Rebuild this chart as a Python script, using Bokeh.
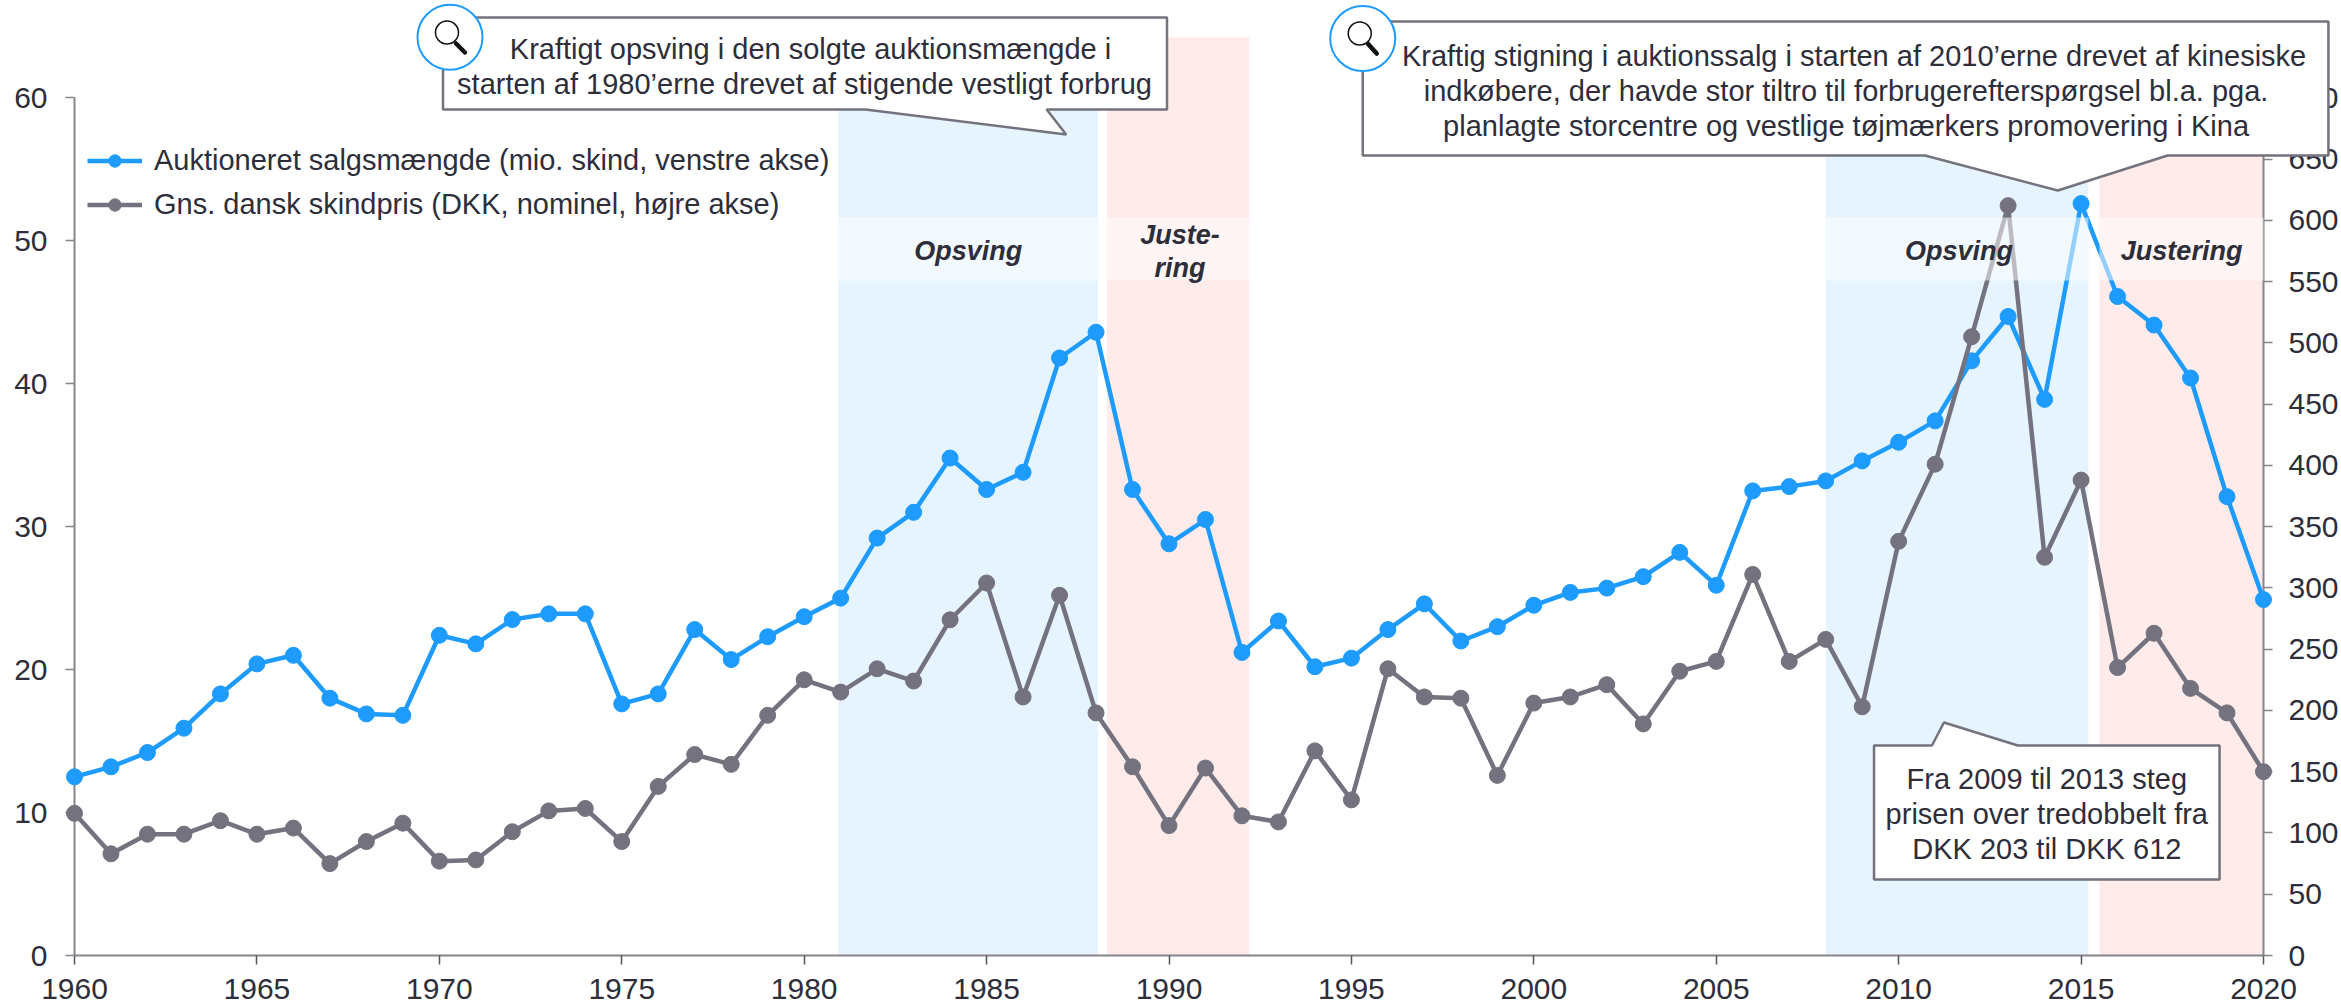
from bokeh.embed import file_html
from bokeh.resources import INLINE
from bokeh.plotting import figure
from bokeh.models import (Range1d, LinearAxis, FixedTicker, ColumnDataSource, Legend, LegendItem)
from bokeh.core.properties import value

years = list(range(1960, 2021))
volume = [12.5, 13.2, 14.2, 15.9, 18.3, 20.4, 21.0, 18.0, 16.9, 16.8,
          22.4, 21.8, 23.5, 23.9, 23.9, 17.6, 18.3, 22.8, 20.7, 22.3,
          23.7, 25.0, 29.2, 31.0, 34.8, 32.6, 33.8, 41.8, 43.6, 32.6,
          28.8, 30.5, 21.2, 23.4, 20.2, 20.8, 22.8, 24.6, 22.0, 23.0,
          24.5, 25.4, 25.7, 26.5, 28.2, 25.9, 32.5, 32.8, 33.2, 34.6,
          35.9, 37.4, 41.6, 44.7, 38.9, 52.6, 46.1, 44.1, 40.4, 32.1, 24.9]
price = [116, 83, 99, 99, 110, 99, 104, 75, 93, 108,
         77, 78, 101, 118, 120, 93, 138, 164, 156, 196,
         225, 215, 234, 224, 274, 304, 211, 294, 198, 154,
         106, 153, 114, 109, 167, 127, 234, 211, 210, 147,
         206, 211, 221, 189, 232, 240, 311, 240, 258, 203,
         338, 401, 505, 612, 325, 388, 235, 263, 218, 198, 150]

series_names = ["Auktioneret salgsmængde (mio. skind, venstre akse)",
                "Gns. dansk skindpris (DKK, nominel, højre akse)"]
x_ticks = list(range(1960, 2021, 5))
left_ticks = list(range(0, 61, 10))
right_ticks = list(range(0, 701, 50))

phases = [(1980.94, 1988.06, "blue", ["Opsving"]),
          (1988.30, 1992.2, "pink", ["Juste-", "ring"]),
          (2008.0, 2015.2, "blue", ["Opsving"]),
          (2015.5, 2020.0, "pink", ["Justering"])]

callout_texts = [
    ["Kraftigt opsving i den solgte auktionsmængde i",
     "starten af 1980’erne drevet af stigende vestligt forbrug"],
    ["Kraftig stigning i auktionssalg i starten af 2010’erne drevet af kinesiske",
     "indkøbere, der havde stor tiltro til forbrugerefterspørgsel bl.a. pga.",
     "planlagte storcentre og vestlige tøjmærkers promovering i Kina"],
    ["Fra 2009 til 2013 steg", "prisen over tredobbelt fra", "DKK 203 til DKK 612"],
]

BLUE = "#1E9BFF"
GREY = "#73727E"
INK = "#2E2E3A"
AXIS = "#85858C"
FONT = "Liberation Sans"

W, H = 2341, 1004
LEFT_PX, RIGHT_PX, ZERO_PX, SIXTY_PX = 74.0, 2266.0, 955.0, 97.3
px_per_unit = (ZERO_PX - SIXTY_PX) / 60
top_value = ZERO_PX / px_per_unit


def X(px):
    return 1960 + (px - LEFT_PX) * 60 / (RIGHT_PX - LEFT_PX)


def Y(px):
    return (ZERO_PX - px) / px_per_unit


p = figure(width=W, height=H, output_backend="svg", toolbar_location=None,
           x_range=Range1d(1960, 2020), y_range=Range1d(0, top_value),
           min_border_left=int(LEFT_PX), min_border_right=int(W - RIGHT_PX),
           min_border_top=0, min_border_bottom=int(H - ZERO_PX),
           outline_line_color=None, background_fill_color="white")
p.grid.visible = False
p.extra_y_ranges = {"price": Range1d(0, top_value * 700 / 60)}
p.yaxis.visible = False
p.xaxis.visible = False


def style(ax, size=30):
    ax.axis_line_color = AXIS
    ax.axis_line_width = 2
    ax.major_tick_line_color = AXIS
    ax.major_tick_line_width = 1.5
    ax.major_tick_in = 0
    ax.major_tick_out = 9
    ax.minor_tick_line_color = None
    ax.major_label_text_color = INK
    ax.major_label_text_font = FONT
    ax.major_label_text_font_size = f"{size}px"


la = LinearAxis(ticker=FixedTicker(ticks=left_ticks), bounds=(0, 60))
style(la)
la.major_label_standoff = 18
p.add_layout(la, "left")
ra = LinearAxis(ticker=FixedTicker(ticks=right_ticks), bounds=(0, 700), y_range_name="price")
style(ra)
ra.major_label_standoff = 16
p.add_layout(ra, "right")
ba = LinearAxis(ticker=FixedTicker(ticks=x_ticks))
style(ba)
ba.major_tick_line_color = "#55555C"
ba.major_label_standoff = 14
p.add_layout(ba, "below")

fills = {"blue": "#E6F4FF", "pink": "#FFEBEA"}
for x0, x1, col, labels in phases:
    p.quad(left=x0, right=x1, bottom=0, top=Y(37), fill_color=fills[col], line_color=None, level="underlay")

src = ColumnDataSource(dict(year=years, volume=volume, price=price))
l1 = p.line("year", "volume", source=src, line_color=BLUE, line_width=4.5, level="overlay")
m1 = p.scatter("year", "volume", source=src, size=16, fill_color=BLUE, line_color=BLUE, level="overlay")
l2 = p.line("year", "price", source=src, line_color=GREY, line_width=4.5, y_range_name="price", level="overlay")
m2 = p.scatter("year", "price", source=src, size=16, fill_color=GREY, line_color=GREY, y_range_name="price", level="overlay")

for x0, x1, col, labels in phases:
    p.quad(left=x0, right=x1, bottom=Y(280), top=Y(217), fill_color="white", fill_alpha=0.52,
           line_color=None, level="overlay")

phase_y = {1: [250], 2: [234, 267]}
phase_x = [969, 1181, 1961, 2184]
for (x0, x1, col, labels), cx in zip(phases, phase_x):
    for t, yy in zip(labels, phase_y[len(labels)]):
        p.text([X(cx)], [Y(yy)], text=[t], text_font=value(FONT), text_font_size="27px",
               text_font_style="bold italic", text_color=INK, text_align="center",
               text_baseline="middle", level="overlay")

callouts = [
    dict(poly=[(443, 17), (1168, 17), (1168, 109), (1047.5, 109), (1067, 134), (866, 109), (443, 109)],
         cx=[811, 805], ys=[48, 83]),
    dict(poly=[(1364, 21), (2331, 21), (2331, 155), (2170, 155), (2060, 190), (1927, 155), (1364, 155)],
         cx=[1856, 1848, 1848], ys=[55, 90, 125]),
    dict(poly=[(1876, 745), (1934, 745), (1946, 722), (2020, 745), (2222, 745), (2222, 879), (1876, 879)],
         cx=[2049, 2049, 2049], ys=[778, 813, 848]),
]
for c, lines in zip(callouts, callout_texts):
    xs = [X(a) for a, b in c["poly"]]
    ys = [Y(b) for a, b in c["poly"]]
    p.patch(xs, ys, fill_color="white", line_color=GREY, line_width=2.5, level="overlay")
    for t, cx, yy in zip(lines, c["cx"], c["ys"]):
        p.text([X(cx)], [Y(yy)], text=[t], text_font=value(FONT), text_font_size="29px",
               text_color=INK, text_align="center", text_baseline="middle", level="overlay")

icons = [(450, 36.7, 447, 32, 456, 43, 465, 52), (1364, 38, 1361, 33, 1369, 43, 1378, 53)]
for cx, cy, lx, ly, h0x, h0y, h1x, h1y in icons:
    p.scatter([X(cx)], [Y(cy)], size=65, fill_color="white", line_color=BLUE, line_width=2, level="overlay")
    p.line([X(h0x), X(h1x)], [Y(h0y), Y(h1y)], line_color="#111111", line_width=4.5, line_cap="round", level="overlay")
    p.scatter([X(lx)], [Y(ly)], size=23, fill_color="white", line_color="#111111", line_width=1.5, level="overlay")

legend = Legend(items=[LegendItem(label=value(series_names[0]), renderers=[l1, m1]),
                       LegendItem(label=value(series_names[1]), renderers=[l2, m2])],
                location=(int(87 - LEFT_PX), int(ZERO_PX - 221)), orientation="vertical",
                background_fill_alpha=0, border_line_color=None, padding=0, margin=0,
                spacing=11, glyph_width=55, glyph_height=31, label_standoff=12,
                label_text_font=FONT, label_text_font_size="29px", label_text_color=INK)
p.add_layout(legend, "center")

open("out.html", "w").write(file_html(p, INLINE))
